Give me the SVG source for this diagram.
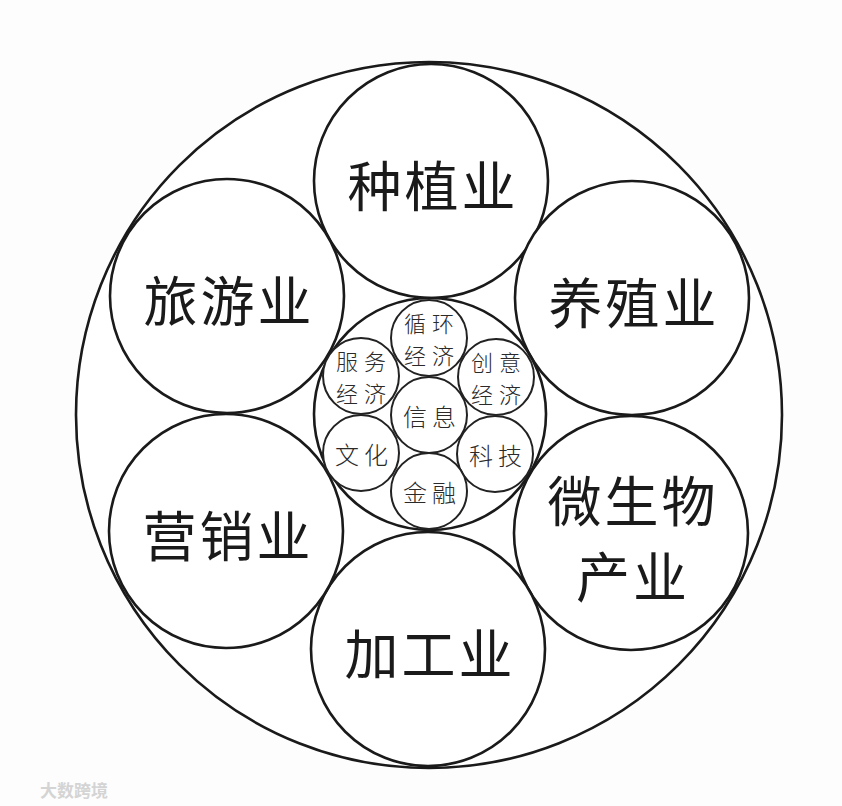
<svg xmlns="http://www.w3.org/2000/svg" width="842" height="806" viewBox="0 0 842 806">
<style>
.c{fill:#fff;stroke:#1a1a1a;stroke-width:2.6}
.s{fill:#fff;stroke:#222;stroke-width:2}
.big{font-family:"Noto Sans CJK SC","Noto Sans",sans-serif;font-size:54px;fill:#1a1a1a;text-anchor:middle;dominant-baseline:central;letter-spacing:3px}
.sm{font-family:"Noto Sans CJK SC","Noto Sans",sans-serif;font-weight:300;font-size:24px;fill:#2a2a2a;text-anchor:middle;dominant-baseline:central;letter-spacing:5px}
.sm2{font-family:"Noto Sans CJK SC","Noto Sans",sans-serif;font-weight:300;font-size:22px;fill:#2a2a2a;text-anchor:middle;dominant-baseline:central;letter-spacing:6px}
.wm{font-family:"Noto Sans CJK SC",sans-serif;font-size:17px;fill:#d4d4d4;font-weight:700}
</style>
<rect width="842" height="806" fill="#fdfdfd"/>
<g id="outer"><circle class="c" cx="429" cy="415" r="353"/></g>
<g id="zhongzhi"><circle class="c" cx="431" cy="181" r="117"/><text class="big" x="433" y="183">种植业</text></g>
<g id="yangzhi"><circle class="c" cx="632" cy="298" r="117"/><text class="big" x="634" y="300">养殖业</text></g>
<g id="weishengwu"><circle class="c" cx="631" cy="533" r="117"/><text class="big"><tspan x="633" y="498">微生物</tspan><tspan x="633" y="574">产业</tspan></text></g>
<g id="jiagong"><circle class="c" cx="428" cy="649" r="117"/><text class="big" x="430" y="651">加工业</text></g>
<g id="yingxiao"><circle class="c" cx="226" cy="531" r="117"/><text class="big" x="228" y="533">营销业</text></g>
<g id="lvyou"><circle class="c" cx="227" cy="296" r="117"/><text class="big" x="229" y="298">旅游业</text></g>
<g id="center"><circle class="c" cx="430" cy="414" r="116"/></g>
<g id="xunhuan"><circle class="s" cx="429" cy="338" r="38"/><text class="sm2"><tspan x="432" y="322">循环</tspan><tspan x="432" y="354">经济</tspan></text></g>
<g id="fuwu"><circle class="s" cx="361" cy="376" r="38"/><text class="sm2"><tspan x="364" y="360">服务</tspan><tspan x="364" y="392">经济</tspan></text></g>
<g id="chuangyi"><circle class="s" cx="496" cy="377" r="38"/><text class="sm2"><tspan x="499" y="361">创意</tspan><tspan x="499" y="393">经济</tspan></text></g>
<g id="xinxi"><circle class="s" cx="429" cy="415" r="38"/><text class="sm" x="432" y="415">信息</text></g>
<g id="wenhua"><circle class="s" cx="361" cy="453" r="38"/><text class="sm" x="364" y="453">文化</text></g>
<g id="keji"><circle class="s" cx="495" cy="454" r="38"/><text class="sm" x="498" y="454">科技</text></g>
<g id="jinrong"><circle class="s" cx="429" cy="491" r="38"/><text class="sm" x="432" y="491">金融</text></g>
<g id="watermark"><text class="wm" x="40" y="797">大数跨境</text></g>
</svg>
